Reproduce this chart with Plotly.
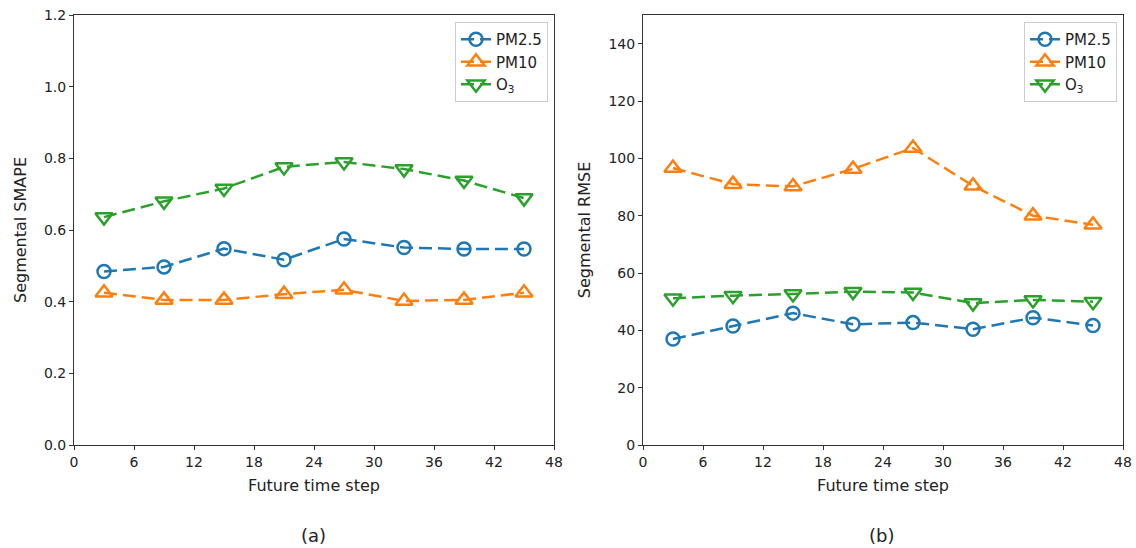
import plotly.graph_objects as go

steps = [3, 9, 15, 21, 27, 33, 39, 45]
series_names = ["PM2.5", "PM10", "O<sub>3</sub>"]
smape_pm25 = [0.484, 0.497, 0.548, 0.517, 0.575, 0.551, 0.547, 0.547]
smape_pm10 = [0.425, 0.405, 0.405, 0.421, 0.433, 0.402, 0.405, 0.425]
smape_o3 = [0.636, 0.680, 0.716, 0.776, 0.790, 0.770, 0.738, 0.689]
rmse_pm25 = [37.0, 41.5, 46.0, 42.1, 42.7, 40.4, 44.4, 41.7]
rmse_pm10 = [96.6, 91.0, 90.2, 96.3, 103.6, 90.4, 80.0, 76.8]
rmse_o3 = [51.2, 52.1, 52.7, 53.5, 53.2, 49.5, 50.6, 50.0]
x_ticks = [0, 6, 12, 18, 24, 30, 36, 42, 48]

colors = ["#1f77b4", "#ff7f0e", "#2ca02c"]
symbols = ["circle-open", "triangle-up-open", "triangle-down-open"]
sizes = [13, 15, 15]

fig = go.Figure()
panels = [
    ([smape_pm25, smape_pm10, smape_o3], "x", "y", "legend"),
    ([rmse_pm25, rmse_pm10, rmse_o3], "x2", "y2", "legend2"),
]
for vals, xa, ya, lg in panels:
    for i, v in enumerate(vals):
        fig.add_trace(go.Scatter(
            x=steps, y=v, name=series_names[i], mode="lines+markers",
            xaxis=xa, yaxis=ya, legend=lg,
            line=dict(color=colors[i], width=2.5, dash="13px,6px"),
            marker=dict(symbol=symbols[i], size=sizes[i], color=colors[i],
                        line=dict(width=2.5, color=colors[i])),
        ))

W, H = 1136, 548
ydom = [(H - 445) / H, (H - 15) / H]
xdom1 = [74 / W, 554 / W]
xdom2 = [643 / W, 1123 / W]

axis_common = dict(showline=True, linecolor="#333", linewidth=1, mirror=True,
                   ticks="outside", ticklen=4, tickcolor="#333", showgrid=False,
                   zeroline=False, automargin=False, tickfont=dict(size=14, color="#222"))

leg_common = dict(yanchor="top", xanchor="right", y=(H - 22) / H,
                  bgcolor="white", bordercolor="#ccc", borderwidth=1,
                  font=dict(size=15), itemwidth=30, tracegroupgap=0)

fig.update_layout(
    width=W, height=H, autosize=False,
    margin=dict(l=0, r=0, t=0, b=0, pad=0),
    paper_bgcolor="white", plot_bgcolor="white",
    font=dict(family="DejaVu Sans", color="#222"),
    xaxis=dict(domain=xdom1, range=[0, 48], tickvals=x_ticks, anchor="y",
               title=dict(text="Future time step", font=dict(size=16), standoff=11), **axis_common),
    yaxis=dict(domain=ydom, range=[0, 1.2], tickvals=[0, 0.2, 0.4, 0.6, 0.8, 1.0, 1.2],
               tickformat=".1f", anchor="x",
               title=dict(text="Segmental SMAPE", font=dict(size=16), standoff=13), **axis_common),
    xaxis2=dict(domain=xdom2, range=[0, 48], tickvals=x_ticks, anchor="y2",
                title=dict(text="Future time step", font=dict(size=16), standoff=11), **axis_common),
    yaxis2=dict(domain=ydom, range=[0, 150], tickvals=[0, 20, 40, 60, 80, 100, 120, 140],
                anchor="x2",
                title=dict(text="Segmental RMSE", font=dict(size=16), standoff=13), **axis_common),
    legend=dict(x=548 / W, **leg_common),
    legend2=dict(x=1117 / W, **leg_common),
    annotations=[
        dict(text="(a)", x=313 / W, y=(H - 535) / H, xref="paper", yref="paper",
             xanchor="center", yanchor="middle", showarrow=False, font=dict(size=18)),
        dict(text="(b)", x=881 / W, y=(H - 535) / H, xref="paper", yref="paper",
             xanchor="center", yanchor="middle", showarrow=False, font=dict(size=18)),
    ],
)

fig.write_html("out.html", config={"displayModeBar": False, "responsive": False},
               post_script="document.body.style.margin='0';document.body.style.overflow='hidden';")
